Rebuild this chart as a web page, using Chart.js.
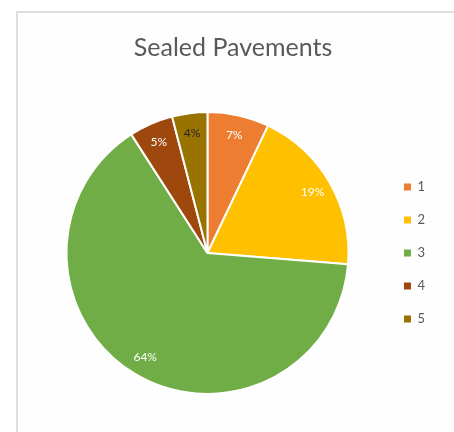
<!DOCTYPE html>
<html>
<head>
<meta charset="utf-8">
<script src="https://cdn.jsdelivr.net/npm/chart.js@4.4.1/dist/chart.umd.min.js"></script>
<style>
  html, body { margin: 0; padding: 0; background: #fff; }
  #frame {
    position: absolute; left: 16px; top: 11px;
    width: 438px; height: 421px;
    border-top: 2px solid #dedede; border-left: 2px solid #dedede;
    background: #fefefe;
  }
  #pie { display: block; }
</style>
</head>
<body>
<div id="frame"><canvas id="pie" width="436" height="419"></canvas></div>
<script>
const categories = ['1', '2', '3', '4', '5'];
const shares = [7, 19, 64, 5, 4];          // percent of sealed pavement length
const valueLabels = ['7%', '19%', '64%', '5%', '4%'];

const sliceColors = ['#ED7D31', '#FFC000', '#70AD47', '#9E480E', '#997300'];
const labelColors = ['#ffffff', '#ffffff', '#ffffff', '#ffffff', '#262626'];

// write the percentage inside each slice, near the rim
const sliceLabels = {
  id: 'sliceLabels',
  afterDatasetsDraw(chart) {
    const ctx = chart.ctx;
    const arcs = chart.getDatasetMeta(0).data;
    ctx.save();
    ctx.font = '12px Lato, "Open Sans", sans-serif';
    ctx.textAlign = 'center';
    ctx.textBaseline = 'middle';
    arcs.forEach((arc, i) => {
      const { x, y, startAngle, endAngle, outerRadius } = arc.getProps(['x', 'y', 'startAngle', 'endAngle', 'outerRadius'], true);
      const mid = (startAngle + endAngle) / 2;
      const r = outerRadius * 0.86;
      ctx.fillStyle = labelColors[i];
      ctx.fillText(valueLabels[i], x + Math.cos(mid) * r, y + Math.sin(mid) * r);
    });
    ctx.restore();
  }
};

const baseLabels = Chart.overrides.pie.plugins.legend.labels.generateLabels;

new Chart(document.getElementById('pie'), {
  type: 'pie',
  data: {
    labels: categories,
    datasets: [{
      data: shares,
      backgroundColor: sliceColors,
      borderColor: '#ffffff',
      borderWidth: 2
    }]
  },
  options: {
    responsive: false,
    animation: false,
    layout: { padding: { left: 13, right: 19, top: 0, bottom: 37 } },
    plugins: {
      title: {
        display: true,
        text: 'Sealed Pavements',
        color: '#595959',
        font: { family: 'Lato, "Open Sans", sans-serif', size: 25, weight: 'normal' },
        padding: { top: 20, bottom: 48 }
      },
      legend: {
        position: 'right',
        // empty legend title only pushes the item column down
        title: { display: true, text: '', padding: { top: 43, bottom: 43 }, font: { size: 10 } },
        labels: {
          color: '#595959',
          font: { family: 'Lato, "Open Sans", sans-serif', size: 13 },
          boxWidth: 7,
          boxHeight: 7,
          padding: 20,
          generateLabels(chart) {
            return baseLabels(chart).map(l => Object.assign(l, { lineWidth: 0 }));
          }
        }
      },
      tooltip: { enabled: false }
    }
  },
  plugins: [sliceLabels]
});
</script>
</body>
</html>
